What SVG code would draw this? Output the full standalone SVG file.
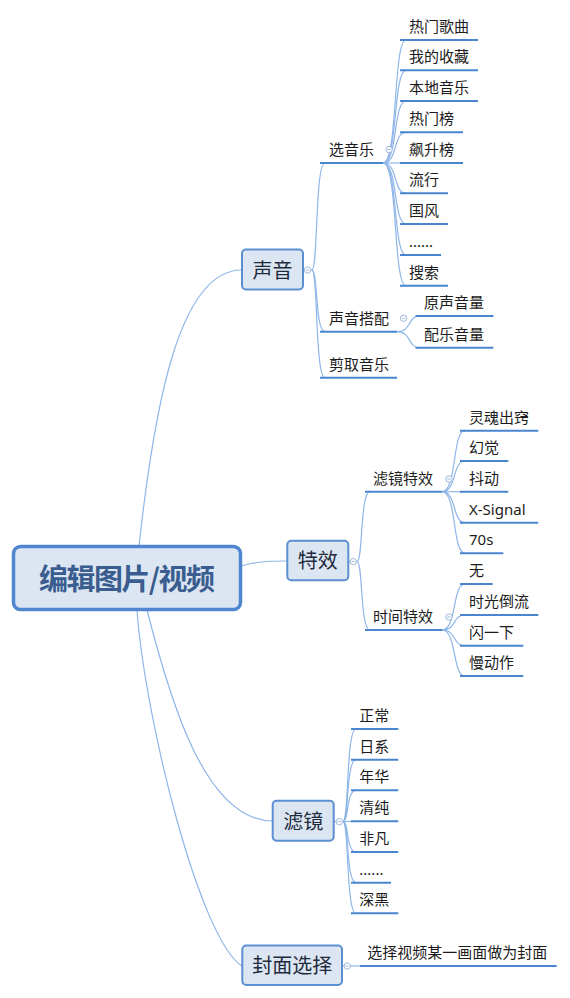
<svg xmlns="http://www.w3.org/2000/svg" xmlns:xlink="http://www.w3.org/1999/xlink" width="570" height="998" viewBox="0 0 570 998">
<style>
.conn{fill:none;stroke:#8fb6e8;stroke-width:1.2}
.ul{stroke:#4a86d0;stroke-width:2;fill:none}
.t{font-family:"Noto Sans","Noto Sans CJK SC",sans-serif;font-size:15px;fill:#1c1c1c}
.t1{font-family:"Noto Sans","Noto Sans CJK SC",sans-serif;font-size:20px;fill:#1f2a3d;text-anchor:middle}
.box{fill:#dce6f2;stroke:#5b8fd2;stroke-width:2}
.root{fill:#dce6f2;stroke:#4f86cf;stroke-width:3.5}
.rt{font-family:"Noto Sans CJK SC",sans-serif;font-size:29px;font-weight:bold;fill:#3a5d90}
</style>
<defs>
<g id="minus"><circle r="3.2" fill="#ffffff" stroke="#9fb8d8" stroke-width="1"/><line x1="-1.6" y1="0" x2="1.6" y2="0" stroke="#9fb8d8" stroke-width="1"/></g>
</defs>
<rect width="570" height="998" fill="#ffffff"/>

<g id="connectors">
<path class="conn" d="M139 546 C155 400 180 270 242 270"/>
<path class="conn" d="M241 566 C256 562 264 561 287 561"/>
<path class="conn" d="M147 610 C170 700 205 821 273 821"/>
<path class="conn" d="M137 610 C145 720 200 940 242 966"/>
<!-- 声音 children -->
<path class="conn" d="M303 270 L312 270"/>
<path class="conn" d="M312 270 C318 270 315 163 325 163"/>
<path class="conn" d="M312 270 C318 270 315 331.7 325 331.7"/>
<path class="conn" d="M312 270 C318 270 315 377.7 325 377.7"/>
<!-- 选音乐 children -->
<path class="conn" d="M383 163 C398 163 393 40 406 40"/>
<path class="conn" d="M383 163 C398 163 393 70.3 406 70.3"/>
<path class="conn" d="M383 163 C398 163 393 101 406 101"/>
<path class="conn" d="M383 163 C398 163 393 132.3 406 132.3"/>
<path class="conn" d="M383 163 L406 163"/>
<path class="conn" d="M383 163 C398 163 393 193.3 406 193.3"/>
<path class="conn" d="M383 163 C398 163 393 224 406 224"/>
<path class="conn" d="M383 163 C398 163 393 255 406 255"/>
<path class="conn" d="M383 163 C398 163 393 285.7 406 285.7"/>
<!-- 声音搭配 children -->
<path class="conn" d="M397 331.7 C412 331.7 407 316 420 316"/>
<path class="conn" d="M397 331.7 C412 331.7 407 347.7 420 347.7"/>
<!-- 特效 children -->
<path class="conn" d="M348 561.5 L357 561.5"/>
<path class="conn" d="M357 561.5 C363 561.5 360 491.7 370 491.7"/>
<path class="conn" d="M357 561.5 C363 561.5 360 630 370 630"/>
<!-- 滤镜特效 children -->
<path class="conn" d="M442 491.7 C457 491.7 452 430.7 465 430.7"/>
<path class="conn" d="M442 491.7 C457 491.7 452 461 465 461"/>
<path class="conn" d="M442 491.7 L465 491.7"/>
<path class="conn" d="M442 491.7 C457 491.7 452 522.7 465 522.7"/>
<path class="conn" d="M442 491.7 C457 491.7 452 553.3 465 553.3"/>
<!-- 时间特效 children -->
<path class="conn" d="M442 630 C457 630 452 584 465 584"/>
<path class="conn" d="M442 630 C457 630 452 615 465 615"/>
<path class="conn" d="M442 630 C457 630 452 645.7 465 645.7"/>
<path class="conn" d="M442 630 C457 630 452 676 465 676"/>
<!-- 滤镜 children -->
<path class="conn" d="M334 821.5 L343 821.5"/>
<path class="conn" d="M343 821.5 C349 821.5 346 729 356 729"/>
<path class="conn" d="M343 821.5 C349 821.5 346 759.7 356 759.7"/>
<path class="conn" d="M343 821.5 C349 821.5 346 790.3 356 790.3"/>
<path class="conn" d="M343 821.5 L356 821.5"/>
<path class="conn" d="M343 821.5 C349 821.5 346 852 356 852"/>
<path class="conn" d="M343 821.5 C349 821.5 346 882.7 356 882.7"/>
<path class="conn" d="M343 821.5 C349 821.5 346 913.3 356 913.3"/>
<!-- 封面选择 child -->
<path class="conn" d="M342 966 L361 966"/>
</g>

<g id="root">
<rect class="root" x="13.5" y="546.5" width="227" height="63" rx="7"/>
<text class="rt" x="39" y="590" textLength="176" lengthAdjust="spacing">编辑图片/视频</text>
</g>

<g id="n-shengyin">
<rect class="box" x="242" y="249.5" width="61" height="40" rx="4"/>
<text class="t1" x="272.5" y="277.5">声音</text>
<use href="#minus" x="307.5" y="270"/>
</g>
<g id="n-texiao">
<rect class="box" x="287.3" y="540.7" width="61" height="39.5" rx="4"/>
<text class="t1" x="317.8" y="568">特效</text>
<use href="#minus" x="353.3" y="561.7"/>
</g>
<g id="n-lvjing">
<rect class="box" x="272.7" y="800.8" width="61" height="40" rx="4"/>
<text class="t1" x="303.2" y="828.5">滤镜</text>
<use href="#minus" x="339.3" y="821.7"/>
</g>
<g id="n-fengmian">
<rect class="box" x="242.3" y="945.5" width="99.7" height="39.5" rx="4"/>
<text class="t1" x="292.2" y="972.8">封面选择</text>
<use href="#minus" x="347.3" y="966"/>
</g>

<!-- level 2 -->
<g id="n-xuanyinyue">
<line class="ul" x1="320" y1="163" x2="383" y2="163"/>
<text class="t" x="329" y="155">选音乐</text>
<use href="#minus" x="389" y="149.5"/>
</g>
<g id="n-shengyindapei">
<line class="ul" x1="320" y1="331.7" x2="397" y2="331.7"/>
<text class="t" x="329" y="323.7">声音搭配</text>
<use href="#minus" x="403.5" y="318.3"/>
</g>
<g id="n-jianqu">
<line class="ul" x1="320" y1="377.7" x2="397" y2="377.7"/>
<text class="t" x="329" y="369.7">剪取音乐</text>
</g>
<g id="n-lvjingtexiao">
<line class="ul" x1="365" y1="491.7" x2="442" y2="491.7"/>
<text class="t" x="373" y="483.7">滤镜特效</text>
<use href="#minus" x="449" y="479"/>
</g>
<g id="n-shijiantexiao">
<line class="ul" x1="365" y1="630" x2="442" y2="630"/>
<text class="t" x="373" y="622">时间特效</text>
<use href="#minus" x="449" y="617"/>
</g>

<!-- 选音乐 leaves -->
<g id="l-rmgq"><line class="ul" x1="400" y1="40" x2="478" y2="40"/><text class="t" x="409" y="32">热门歌曲</text></g>
<g id="l-wdsc"><line class="ul" x1="400" y1="70.3" x2="478" y2="70.3"/><text class="t" x="409" y="62.3">我的收藏</text></g>
<g id="l-bdyy"><line class="ul" x1="400" y1="101" x2="478" y2="101"/><text class="t" x="409" y="93">本地音乐</text></g>
<g id="l-rmb"><line class="ul" x1="400" y1="132.3" x2="463" y2="132.3"/><text class="t" x="409" y="124.3">热门榜</text></g>
<g id="l-bsb"><line class="ul" x1="400" y1="163" x2="463" y2="163"/><text class="t" x="409" y="155">飙升榜</text></g>
<g id="l-lx"><line class="ul" x1="400" y1="193.3" x2="448" y2="193.3"/><text class="t" x="409" y="185.3">流行</text></g>
<g id="l-gf"><line class="ul" x1="400" y1="224" x2="448" y2="224"/><text class="t" x="409" y="216">国风</text></g>
<g id="l-dots1"><line class="ul" x1="400" y1="255" x2="441" y2="255"/><text class="t" x="409" y="247">......</text></g>
<g id="l-ss"><line class="ul" x1="400" y1="285.7" x2="448" y2="285.7"/><text class="t" x="409" y="277.7">搜索</text></g>

<!-- 声音搭配 leaves -->
<g id="l-ysyl"><line class="ul" x1="415.5" y1="316" x2="493.5" y2="316"/><text class="t" x="424" y="308">原声音量</text></g>
<g id="l-pyyl"><line class="ul" x1="415.5" y1="347.7" x2="493.5" y2="347.7"/><text class="t" x="424" y="339.7">配乐音量</text></g>

<!-- 滤镜特效 leaves -->
<g id="l-lhcq"><line class="ul" x1="460" y1="430.7" x2="538.3" y2="430.7"/><text class="t" x="469" y="422.7">灵魂出窍</text></g>
<g id="l-hj"><line class="ul" x1="460" y1="461" x2="508.3" y2="461"/><text class="t" x="469" y="453">幻觉</text></g>
<g id="l-dd"><line class="ul" x1="460" y1="491.7" x2="508.3" y2="491.7"/><text class="t" x="469" y="483.7">抖动</text></g>
<g id="l-xs"><line class="ul" x1="460" y1="522.7" x2="538.3" y2="522.7"/><text class="t" x="469" y="514.5">X-Signal</text></g>
<g id="l-70s"><line class="ul" x1="460" y1="553.3" x2="503.3" y2="553.3"/><text class="t" x="469" y="545.2">70s</text></g>

<!-- 时间特效 leaves -->
<g id="l-wu"><line class="ul" x1="460" y1="584" x2="492.7" y2="584"/><text class="t" x="469" y="576">无</text></g>
<g id="l-sgdl"><line class="ul" x1="460" y1="615" x2="538.3" y2="615"/><text class="t" x="469" y="607">时光倒流</text></g>
<g id="l-syx"><line class="ul" x1="460" y1="645.7" x2="523.3" y2="645.7"/><text class="t" x="469" y="637.7">闪一下</text></g>
<g id="l-mdz"><line class="ul" x1="460" y1="676" x2="523.3" y2="676"/><text class="t" x="469" y="668">慢动作</text></g>

<!-- 滤镜 leaves -->
<g id="l-zc"><line class="ul" x1="351" y1="729" x2="398.3" y2="729"/><text class="t" x="359.3" y="721">正常</text></g>
<g id="l-rx"><line class="ul" x1="351" y1="759.7" x2="398.3" y2="759.7"/><text class="t" x="359.3" y="751.7">日系</text></g>
<g id="l-nh"><line class="ul" x1="351" y1="790.3" x2="398.3" y2="790.3"/><text class="t" x="359.3" y="782.3">年华</text></g>
<g id="l-qc"><line class="ul" x1="351" y1="821.3" x2="398.3" y2="821.3"/><text class="t" x="359.3" y="813.3">清纯</text></g>
<g id="l-ff"><line class="ul" x1="351" y1="852" x2="398.3" y2="852"/><text class="t" x="359.3" y="844">非凡</text></g>
<g id="l-dots2"><line class="ul" x1="351" y1="882.7" x2="391" y2="882.7"/><text class="t" x="359.3" y="874.7">......</text></g>
<g id="l-sh"><line class="ul" x1="351" y1="913.3" x2="398.3" y2="913.3"/><text class="t" x="359.3" y="905.3">深黑</text></g>

<!-- 封面选择 leaf -->
<g id="l-fm"><line class="ul" x1="360" y1="966" x2="556.7" y2="966"/><text class="t" x="367.3" y="958">选择视频某一画面做为封面</text></g>
</svg>
